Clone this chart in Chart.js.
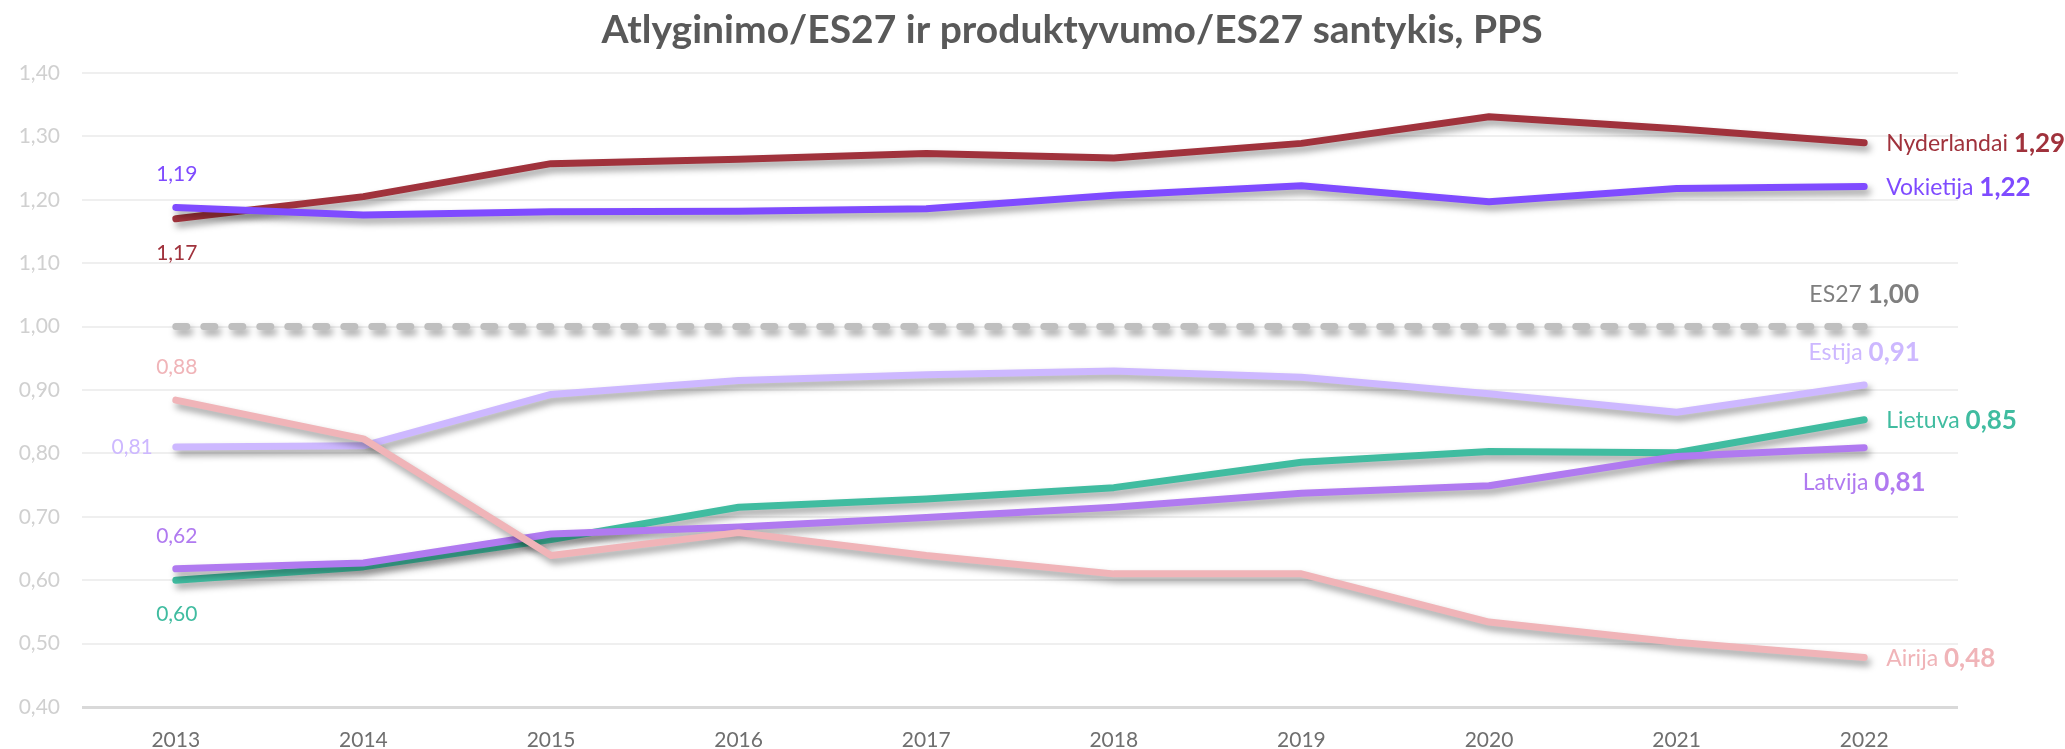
<!DOCTYPE html>
<html lang="lt">
<head>
<meta charset="utf-8">
<script src="https://cdn.jsdelivr.net/npm/chart.js@4.4.1/dist/chart.umd.min.js"></script>
<style>
    html, body { margin: 0; padding: 0; background: #ffffff; }
    #grafikas-wrap { width: 2065px; height: 749px; position: relative; }
</style>
</head>
<body>
<div id="grafikas-wrap"><canvas id="grafikas"></canvas></div>
<script>
// Duomenys
const metai = ['2013', '2014', '2015', '2016', '2017', '2018', '2019', '2020', '2021', '2022'];
const nyderlandai = [1.17, 1.205, 1.257, 1.264, 1.273, 1.266, 1.289, 1.331, 1.312, 1.29];
const vokietija = [1.188, 1.176, 1.181, 1.182, 1.186, 1.207, 1.222, 1.197, 1.218, 1.221];
const es27 = [1.00, 1.00, 1.00, 1.00, 1.00, 1.00, 1.00, 1.00, 1.00, 1.00];
const estija = [0.81, 0.812, 0.893, 0.915, 0.924, 0.930, 0.920, 0.894, 0.865, 0.908];
const lietuva = [0.60, 0.621, 0.664, 0.715, 0.728, 0.746, 0.786, 0.803, 0.801, 0.853];
const latvija = [0.618, 0.627, 0.673, 0.684, 0.699, 0.715, 0.737, 0.749, 0.795, 0.809];
const airija = [0.884, 0.823, 0.639, 0.675, 0.639, 0.61, 0.61, 0.534, 0.502, 0.478];

const pavadinimas = 'Atlyginimo/ES27 ir produktyvumo/ES27 santykis, PPS';
const yMin = 0.4;
const yMax = 1.4;
const yZingsnis = 0.1;

const SRIFTAS = 'Lato, "Open Sans", sans-serif';

function kablelis(v) {
    return v.toFixed(2).replace('.', ',');
}

// Serijos: spalva, etikečių vieta pradžioje ir pabaigoje
let serijos = [
    { pav: 'Vokietija', data: vokietija, spalva: '#7f4bff', pradzia: 'virs', pabaiga: 'desine' },
    { pav: 'Nyderlandai', data: nyderlandai, spalva: '#a0323c', pradzia: 'po', pabaiga: 'desine' },
    { pav: 'Airija', data: airija, spalva: '#f0b4b8', pradzia: 'virs', pabaiga: 'desine' },
    { pav: 'Latvija', data: latvija, spalva: '#b07af0', pradzia: 'virs', pabaiga: 'po' },
    { pav: 'Lietuva', data: lietuva, spalva: '#40bca0', pradzia: 'po', pabaiga: 'desine' },
    { pav: 'Estija', data: estija, spalva: '#cdb8ff', pradzia: 'kaire', pabaiga: 'virs' },
    { pav: 'ES27', data: es27, spalva: '#bfbfbf', pradzia: null, pabaiga: 'virs', tekstas: '#7f7f7f', bruksnys: true }
];

let dados = {
    labels: metai,
    datasets: serijos.map(function (s) {
        return {
            label: s.pav,
            data: s.data,
            borderColor: s.spalva,
            backgroundColor: s.spalva,
            borderWidth: 7,
            borderCapStyle: 'round',
            borderJoinStyle: 'round',
            borderDash: s.bruksnys ? [11, 17] : [],
            pointRadius: 0,
            pointHoverRadius: 0,
            tension: 0,
            fill: false
        };
    })
};

// Šešėlis po linijomis
const seselis = {
    id: 'seselis',
    beforeDatasetDraw(chart) {
        const ctx = chart.ctx;
        ctx.save();
        ctx.shadowColor = 'rgba(0, 0, 0, 0.38)';
        ctx.shadowBlur = 7;
        ctx.shadowOffsetX = 3;
        ctx.shadowOffsetY = 5;
    },
    afterDatasetDraw(chart) {
        chart.ctx.restore();
    }
};

// Pavadinimas ir reikšmių etiketės
const etiketes = {
    id: 'etiketes',
    afterDatasetsDraw(chart) {
        const ctx = chart.ctx;
        ctx.save();

        ctx.fillStyle = '#595959';
        ctx.font = 'bold 39px ' + SRIFTAS;
        ctx.textAlign = 'center';
        ctx.textBaseline = 'middle';
        ctx.fillText(pavadinimas, 1072, 30);

        serijos.forEach(function (s, i) {
            const meta = chart.getDatasetMeta(i);
            const spalva = s.tekstas || s.spalva;
            ctx.fillStyle = spalva;
            ctx.textBaseline = 'middle';

            // pradžios etiketė (tik reikšmė)
            if (s.pradzia) {
                const p = meta.data[0];
                const t = kablelis(s.data[0]);
                ctx.font = '21px ' + SRIFTAS;
                if (s.pradzia === 'kaire') {
                    ctx.textAlign = 'right';
                    ctx.fillText(t, p.x - 23, p.y);
                } else {
                    ctx.textAlign = 'center';
                    ctx.fillText(t, p.x + 1, p.y + (s.pradzia === 'virs' ? -33 : 34));
                }
            }

            // pabaigos etiketė: pavadinimas + paryškinta reikšmė
            const n = s.data.length - 1;
            const q = meta.data[n];
            const vardas = s.pav + ' ';
            const verte = kablelis(s.data[n]);
            ctx.font = '23px ' + SRIFTAS;
            const w1 = ctx.measureText(vardas).width;
            ctx.font = 'bold 26px ' + SRIFTAS;
            const w2 = ctx.measureText(verte).width;
            let x0, y0;
            if (s.pabaiga === 'desine') {
                x0 = q.x + 22;
                y0 = q.y + 1;
            } else {
                x0 = q.x - (w1 + w2) / 2;
                y0 = q.y + (s.pabaiga === 'virs' ? -32 : 35);
            }
            ctx.textAlign = 'left';
            ctx.font = '23px ' + SRIFTAS;
            ctx.fillText(vardas, x0, y0);
            ctx.font = 'bold 26px ' + SRIFTAS;
            ctx.fillText(verte, x0 + w1, y0);
        });

        ctx.restore();
    }
};

const config = {
    type: 'line',
    data: dados,
    plugins: [seselis, etiketes],
    options: {
        responsive: true,
        maintainAspectRatio: false,
        animation: false,
        layout: {
            padding: { top: 73, right: 107, bottom: 0, left: 0 }
        },
        plugins: {
            legend: { display: false },
            title: { display: false },
            tooltip: { enabled: false }
        },
        scales: {
            x: {
                offset: true,
                grid: { display: false, drawTicks: false },
                border: { display: false },
                ticks: {
                    color: '#6f6f6f',
                    font: { family: SRIFTAS, size: 21 },
                    padding: 21,
                    maxRotation: 0
                },
                afterFit(scale) { scale.height = 42; }
            },
            y: {
                min: yMin,
                max: yMax,
                grid: {
                    color: function (c) { return c.tick && Math.abs(c.tick.value - yMin) < 1e-6 ? '#d9d9d9' : '#efefef'; },
                    lineWidth: function (c) { return c.tick && Math.abs(c.tick.value - yMin) < 1e-6 ? 3 : 2; },
                    drawTicks: false
                },
                border: { display: false },
                ticks: {
                    stepSize: yZingsnis,
                    color: '#d0d0d0',
                    font: { family: SRIFTAS, size: 21 },
                    padding: 22,
                    callback: function (v) { return kablelis(v); }
                },
                afterFit(scale) { scale.width = 82; }
            }
        }
    }
};

let myChart = new Chart(
    document.getElementById('grafikas'),
    config,
);
</script>
</body>
</html>
